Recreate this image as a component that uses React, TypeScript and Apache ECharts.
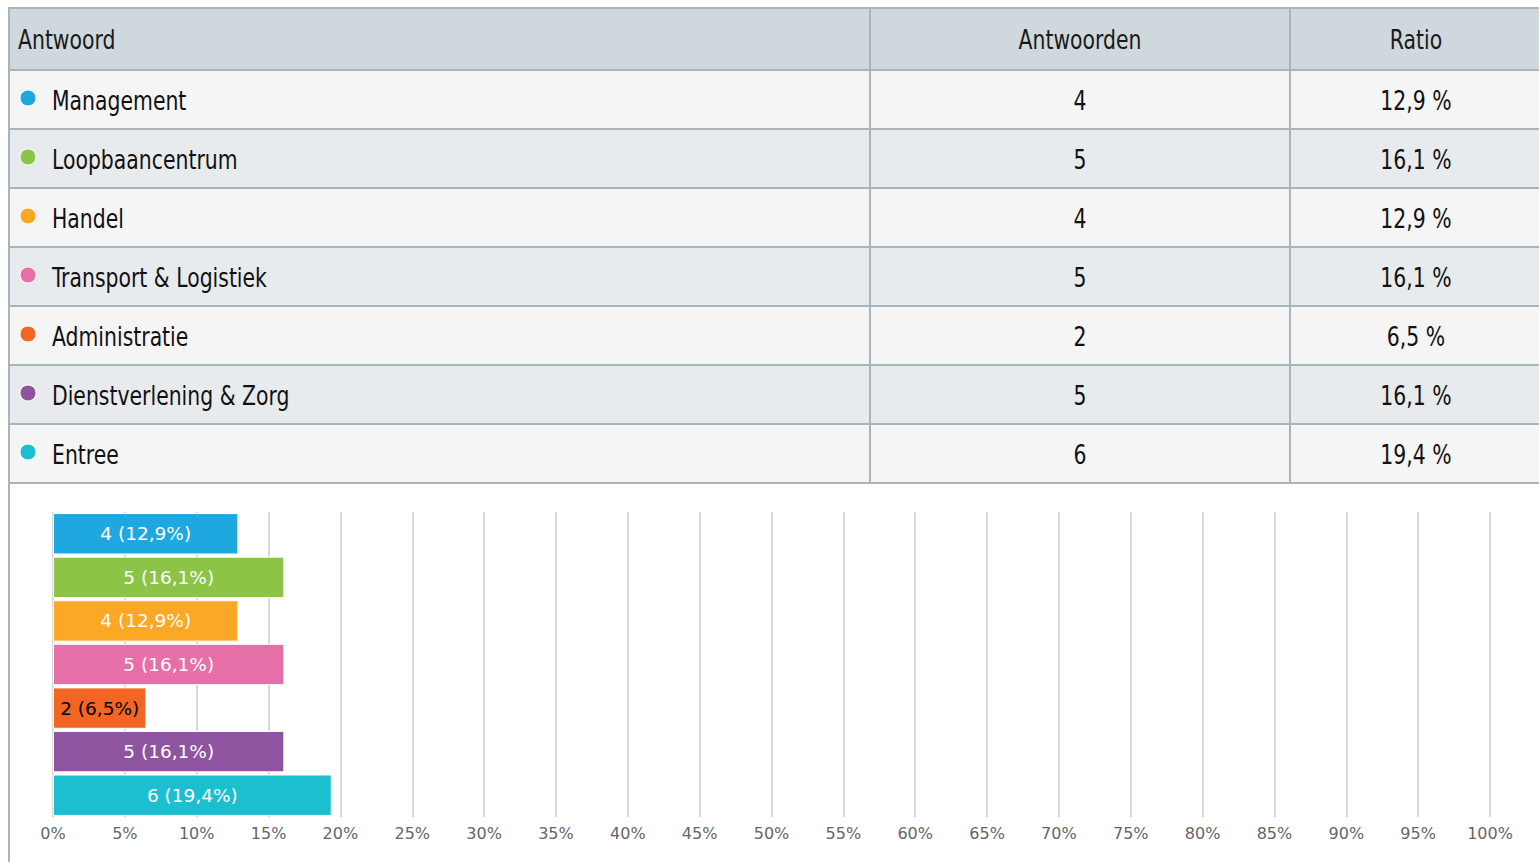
import React, { useEffect, useRef } from "react";
import * as echarts from "echarts";

const categories = [
  "Management",
  "Loopbaancentrum",
  "Handel",
  "Transport & Logistiek",
  "Administratie",
  "Dienstverlening & Zorg",
  "Entree",
];
const counts = [4, 5, 4, 5, 2, 5, 6];
const ratios = [12.9, 16.1, 12.9, 16.1, 6.5, 16.1, 19.4];
const colors = ["#1fa8e0", "#8bc446", "#fba826", "#e66fa8", "#f26522", "#8e54a0", "#1bbfcf"];
const labelColors = ["#ffffff", "#ffffff", "#ffffff", "#ffffff", "#000000", "#ffffff", "#ffffff"];
const headers = ["Antwoord", "Antwoorden", "Ratio"];
const xTicks = [0, 5, 10, 15, 20, 25, 30, 35, 40, 45, 50, 55, 60, 65, 70, 75, 80, 85, 90, 95, 100];

const fmt = (v: number) => v.toFixed(1).replace(".", ",");

const TABLE_FONT = '"DejaVu Sans Condensed", "DejaVu Sans", sans-serif';
const CHART_FONT = '"DejaVu Sans", sans-serif';

export default function App() {
  const ref = useRef<HTMLDivElement>(null);
  useEffect(() => {
    if (!ref.current) return;
    const chart = echarts.init(ref.current, undefined, { renderer: "svg" });

    const W = 1539;
    const top = 8;
    const headerBottom = 70;
    const rowH = 59;
    const col1 = 870;
    const col2 = 1290;
    const right = 1542;
    const border = "#a9b5bb";
    const tableBottom = headerBottom + rowH * categories.length;
    const SX = 0.84;
    const font = `27px ${TABLE_FONT}`;

    const g: any[] = [];
    g.push({ type: "rect", shape: { x: 9, y: top, width: W, height: headerBottom - top }, style: { fill: "#cfd8dc" } });
    categories.forEach((c, i) => {
      g.push({
        type: "rect",
        shape: { x: 9, y: headerBottom + rowH * i, width: W, height: rowH },
        style: { fill: i % 2 === 0 ? "#f5f5f5" : "#e8ebed" },
      });
    });
    const hy = [top];
    for (let i = 0; i <= categories.length; i++) hy.push(headerBottom + rowH * i);
    hy.forEach((y) =>
      g.push({ type: "line", shape: { x1: 9, y1: y, x2: W, y2: y }, style: { stroke: border, lineWidth: 2 } })
    );
    [col1, col2].forEach((x) =>
      g.push({ type: "line", shape: { x1: x, y1: top, x2: x, y2: tableBottom }, style: { stroke: border, lineWidth: 2 } })
    );
    g.push({ type: "line", shape: { x1: 9, y1: top - 1, x2: 9, y2: 862 }, style: { stroke: border, lineWidth: 2 } });

    const txt = (x: number, y: number, text: string, align: string, fill: string) => ({
      type: "text",
      x,
      y,
      scaleX: SX,
      style: { text, font, fill, textVerticalAlign: "middle", textAlign: align },
    });

    const hc = (top + headerBottom) / 2 + 1;
    g.push(txt(18, hc, headers[0], "left", "#1a1a1a"));
    g.push(txt((col1 + col2) / 2, hc, headers[1], "center", "#1a1a1a"));
    g.push(txt((col2 + right) / 2, hc, headers[2], "center", "#1a1a1a"));

    categories.forEach((c, i) => {
      const cy = headerBottom + rowH * i + rowH / 2 + 1.5;
      g.push({ type: "circle", shape: { cx: 28, cy: cy - 3, r: 8 }, style: { fill: colors[i], stroke: "#ffffff", lineWidth: 1 } });
      g.push(txt(52, cy, c, "left", "#111111"));
      g.push(txt((col1 + col2) / 2, cy, String(counts[i]), "center", "#111111"));
      g.push(txt((col2 + right) / 2, cy, `${fmt(ratios[i])} %`, "center", "#111111"));
    });

    chart.setOption({
      animation: false,
      backgroundColor: "#ffffff",
      graphic: { elements: g },
      grid: { left: 53, right: 1539 - 1490, top: 512, height: 305, containLabel: false },
      xAxis: {
        type: "value",
        min: 0,
        max: 100,
        interval: 5,
        axisLine: { show: false },
        axisTick: { show: false },
        axisLabel: {
          formatter: (v: number) => (xTicks.includes(v) ? `${v}%` : ""),
          color: "#666666",
          fontSize: 16,
          fontFamily: CHART_FONT,
          margin: 8,
        },
        splitLine: { show: true, lineStyle: { color: "#cccccc", width: 1.5 } },
      },
      yAxis: {
        type: "category",
        data: categories,
        inverse: true,
        axisLine: { show: false },
        axisTick: { show: false },
        axisLabel: { show: false },
        splitLine: { show: false },
      },
      series: [
        {
          type: "bar",
          barCategoryGap: "5%",
          data: ratios.map((r, i) => ({
            value: r,
            itemStyle: { color: colors[i], borderColor: "#ffffff", borderWidth: 1 },
            label: { color: labelColors[i] },
          })),
          label: {
            show: true,
            position: "inside",
            fontSize: 18.5,
            fontFamily: CHART_FONT,
            formatter: (p: any) => `${counts[p.dataIndex]} (${fmt(ratios[p.dataIndex])}%)`,
          },
        },
      ],
    });
    return () => chart.dispose();
  }, []);
  return <div ref={ref} style={{ position: "fixed", left: 0, top: 0, width: 1539, height: 862 }} />;
}
